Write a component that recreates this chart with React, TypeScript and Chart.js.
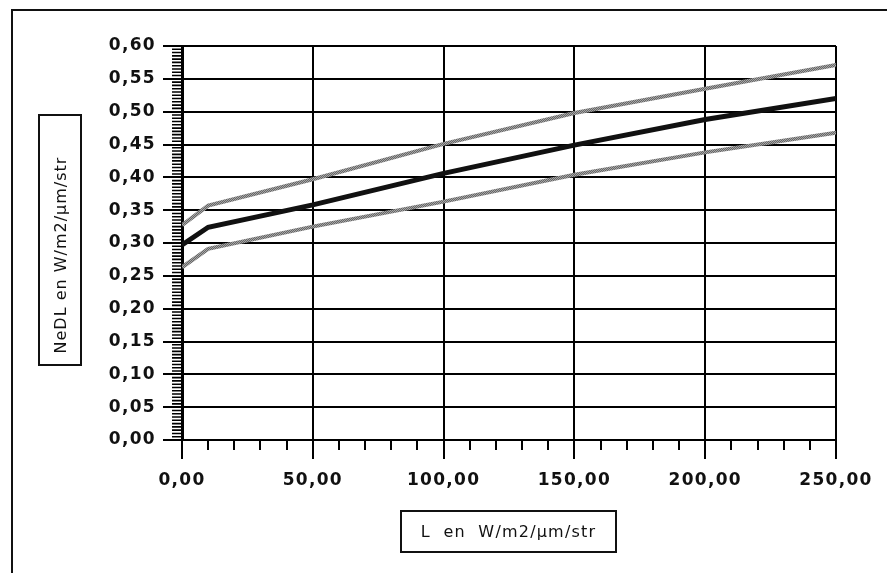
import React, { useEffect, useRef } from "react";
import { Chart, registerables } from "chart.js";

Chart.register(...registerables);

const xValues = [0, 10, 50, 100, 150, 200, 250];
const neDL = [0.297, 0.324, 0.358, 0.406, 0.449, 0.488, 0.52];
const upperBound = [0.327, 0.357, 0.397, 0.451, 0.498, 0.535, 0.571];
const lowerBound = [0.263, 0.291, 0.325, 0.363, 0.404, 0.438, 0.468];

const yTitle = "NeDL en W/m2/µm/str";
const xTitle = "L  en  W/m2/µm/str";

const fmt = (v: number) => Number(v).toFixed(2).replace(".", ",");

function makePattern(ctx: CanvasRenderingContext2D): CanvasPattern | string {
  const c = document.createElement("canvas");
  c.width = 2;
  c.height = 2;
  const p = c.getContext("2d");
  if (!p) return "#888";
  p.fillStyle = "#666666";
  p.fillRect(0, 0, 2, 2);
  p.fillStyle = "#a6a6a6";
  p.fillRect(0, 0, 1, 1);
  p.fillRect(1, 1, 1, 1);
  return ctx.createPattern(c, "repeat") || "#888";
}

const minorTicks = {
  id: "minorTicks",
  beforeDraw(chart: any) {
    chart.ctx.letterSpacing = "1.3px";
  },
  afterDraw(chart: any) {
    const ctx = chart.ctx;
    ctx.letterSpacing = "0px";
    const xs = chart.scales.x;
    const ys = chart.scales.y;
    const { left, bottom } = chart.chartArea;
    ctx.save();
    ctx.strokeStyle = "#000";
    ctx.lineWidth = 1.6;
    ctx.beginPath();
    for (let i = 0; i <= 120; i++) {
      if (i % 10 === 0) continue;
      const y = ys.getPixelForValue(i * 0.005);
      ctx.moveTo(left - 10, y);
      ctx.lineTo(left, y);
    }
    ctx.stroke();
    ctx.lineWidth = 2;
    ctx.beginPath();
    for (let i = 0; i <= 25; i++) {
      if (i % 5 === 0) continue;
      const x = Math.round(xs.getPixelForValue(i * 10));
      ctx.moveTo(x, bottom);
      ctx.lineTo(x, bottom + 10);
    }
    ctx.stroke();
    ctx.restore();
  },
};

export default function App() {
  const ref = useRef<HTMLCanvasElement>(null);
  useEffect(() => {
    const canvas = ref.current!;
    const ctx = canvas.getContext("2d")!;
    const pat = makePattern(ctx);
    const tickFont = { family: "DejaVu Sans", size: 17, weight: "bold" as const };
    const chart = new Chart(canvas, {
      type: "line",
      data: {
        datasets: [
          {
            label: "NeDL",
            data: xValues.map((x, i) => ({ x, y: neDL[i] })),
            borderColor: "#111",
            borderWidth: 5,
            pointRadius: 0,
            tension: 0,
            order: 0,
          },
          {
            label: "max",
            data: xValues.map((x, i) => ({ x, y: upperBound[i] })),
            borderColor: pat as any,
            borderWidth: 4,
            pointRadius: 0,
            tension: 0,
            order: 1,
          },
          {
            label: "min",
            data: xValues.map((x, i) => ({ x, y: lowerBound[i] })),
            borderColor: pat as any,
            borderWidth: 4,
            pointRadius: 0,
            tension: 0,
            order: 2,
          },
        ],
      },
      options: {
        animation: false,
        responsive: false,
        devicePixelRatio: 1,
        layout: { padding: { left: 0, top: 46, right: 51, bottom: 0 } },
        plugins: { legend: { display: false }, tooltip: { enabled: false } },
        scales: {
          x: {
            type: "linear",
            min: 0,
            max: 250,
            afterFit: (s: any) => {
              s.height = 133;
            },
            ticks: {
              stepSize: 50,
              color: "#111",
              padding: 11,
              maxRotation: 0,
              font: tickFont,
              callback: (v: any) => fmt(v),
            },
            grid: { color: "#000", lineWidth: 2, tickLength: 19, drawTicks: true },
            border: { color: "#000", width: 2 },
          },
          y: {
            type: "linear",
            min: 0,
            max: 0.6,
            afterFit: (s: any) => {
              s.width = 182;
            },
            ticks: {
              stepSize: 0.05,
              color: "#111",
              padding: 7,
              font: tickFont,
              callback: (v: any) => fmt(v),
            },
            grid: { color: "#000", lineWidth: 2, tickLength: 19, drawTicks: true },
            border: { color: "#000", width: 3 },
          },
        },
      },
      plugins: [minorTicks],
    });
    return () => chart.destroy();
  }, []);

  return (
    <div
      style={{
        position: "fixed",
        left: 0,
        top: 0,
        width: 887,
        height: 573,
        overflow: "hidden",
        background: "#fff",
      }}
    >
      <div
        style={{
          position: "absolute",
          left: 11,
          top: 9,
          width: 1000,
          height: 700,
          borderLeft: "2px solid #111",
          borderTop: "2px solid #111",
        }}
      />
      <canvas
        ref={ref}
        width={887}
        height={573}
        style={{ position: "absolute", left: 0, top: 0, width: 887, height: 573 }}
      />
      <div
        style={{
          position: "absolute",
          left: 38,
          top: 114,
          width: 40,
          height: 248,
          border: "2px solid #111",
        }}
      >
        <div
          style={{
            position: "absolute",
            left: 20,
            top: 139,
            transform: "translate(-50%, -50%) rotate(-90deg)",
            whiteSpace: "pre",
            fontFamily: "DejaVu Sans",
            fontSize: 16,
            letterSpacing: "1px",
            color: "#111",
          }}
        >
          {yTitle}
        </div>
      </div>
      <div
        style={{
          position: "absolute",
          left: 400,
          top: 510,
          width: 213,
          height: 39,
          border: "2px solid #111",
          display: "flex",
          alignItems: "center",
          justifyContent: "center",
          whiteSpace: "pre",
          fontFamily: "DejaVu Sans",
          fontSize: 16,
          letterSpacing: "1.2px",
          color: "#111",
        }}
      >
        {xTitle}
      </div>
    </div>
  );
}
